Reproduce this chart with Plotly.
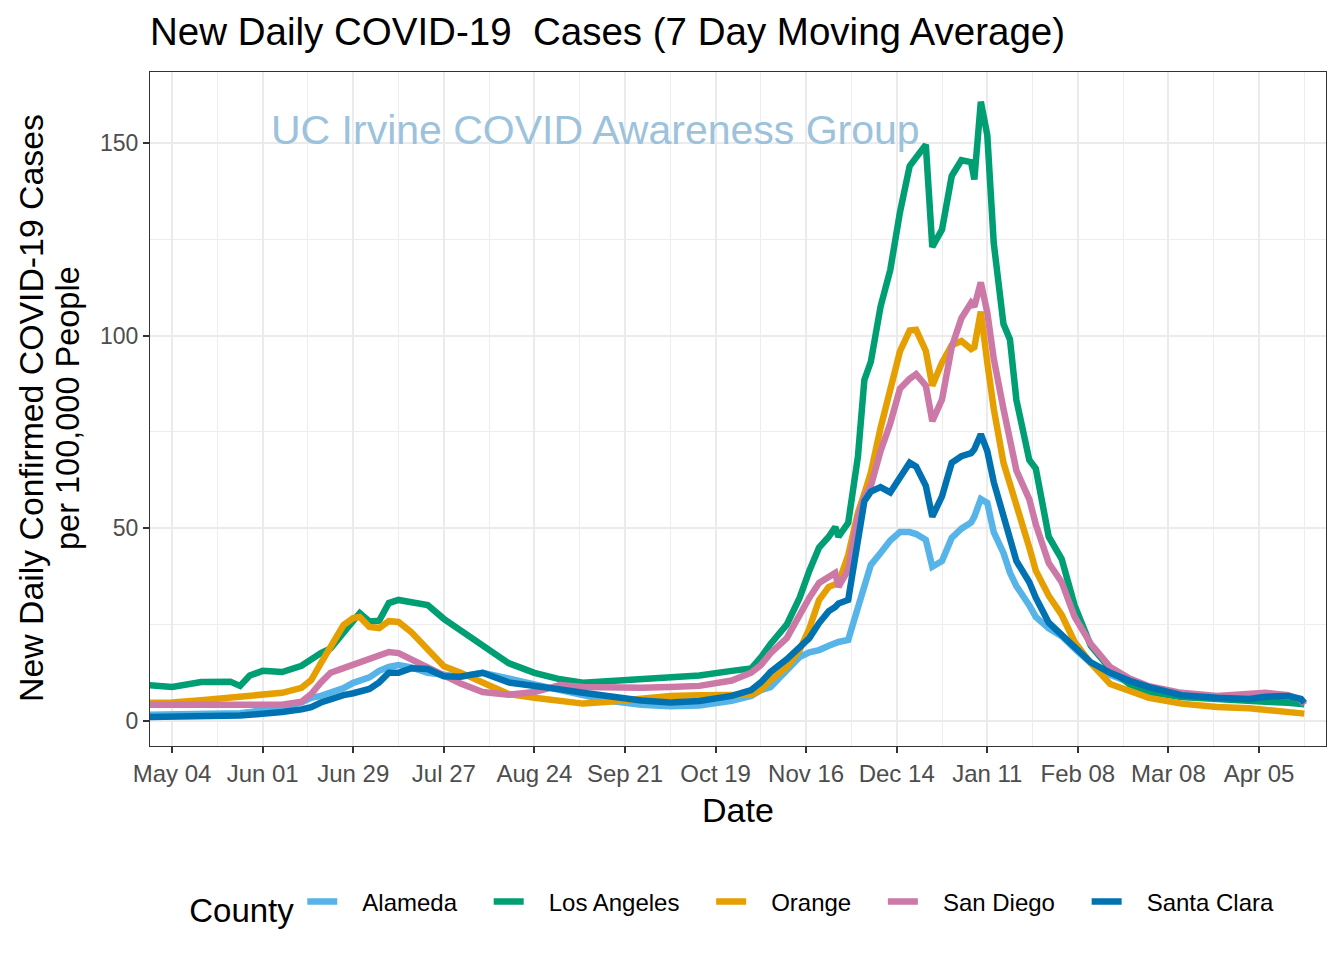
import plotly.graph_objects as go

dates = ["2020-04-27","2020-05-04","2020-05-13","2020-05-22","2020-05-25","2020-05-28","2020-06-01","2020-06-07",
         "2020-06-13","2020-06-16","2020-06-19","2020-06-22","2020-06-26","2020-06-29","2020-07-01","2020-07-04",
         "2020-07-07","2020-07-10","2020-07-13","2020-07-17","2020-07-22","2020-07-27","2020-08-01","2020-08-08",
         "2020-08-16","2020-08-24","2020-09-01","2020-09-08","2020-09-16","2020-09-26","2020-10-05","2020-10-14",
         "2020-10-24","2020-10-30","2020-11-02","2020-11-05","2020-11-10","2020-11-14","2020-11-17","2020-11-20",
         "2020-11-23","2020-11-25","2020-11-26","2020-11-29","2020-12-02","2020-12-04","2020-12-06","2020-12-09",
         "2020-12-12","2020-12-15","2020-12-18","2020-12-20","2020-12-23","2020-12-25","2020-12-28","2020-12-31",
         "2021-01-03","2021-01-06","2021-01-07","2021-01-09","2021-01-11","2021-01-13","2021-01-16","2021-01-18",
         "2021-01-20","2021-01-24","2021-01-26","2021-01-30","2021-02-03","2021-02-07","2021-02-12","2021-02-18",
         "2021-02-24","2021-03-02","2021-03-12","2021-03-23","2021-04-02","2021-04-07","2021-04-14","2021-04-18",
         "2021-04-19"]

alameda = [1.6,1.6,1.6,1.8,2.0,2.3,2.7,3.6,4.8,6.0,6.5,7.2,8.5,9.9,10.5,11.3,13.0,14.0,14.5,13.9,12.5,11.8,11.5,12.5,
           10.8,9.5,8.0,6.8,5.2,4.2,3.8,4.0,5.2,6.5,8.0,8.8,13.0,16.6,17.8,18.4,19.5,20.2,20.5,21.0,29.6,36.0,40.5,
           43.6,46.8,49.0,49.0,48.5,47.0,40.0,41.5,47.5,49.9,51.5,53.0,57.6,56.6,49.0,43.6,38.5,35.0,30.0,27.0,24.0,
           22.0,18.8,15.0,12.0,10.0,8.5,6.5,5.8,5.5,6.0,6.2,5.5,4.5]

los_angeles = [9.3,8.8,10.1,10.2,9.1,11.8,13.0,12.7,14.3,16.0,17.6,18.8,22.8,26.3,28.0,25.8,26.0,30.6,31.4,30.8,30.1,
               26.5,23.5,19.5,15.0,12.5,10.8,9.9,10.4,10.8,11.2,11.8,13.0,13.6,16.5,20.0,25.0,32.0,39.0,45.0,47.8,50.3,
               47.8,51.4,68.5,88.5,93.2,107.5,117.0,132.0,144.0,146.0,149.5,123.0,127.5,141.4,145.5,145.0,140.5,160.7,
               152.0,124.0,103.0,99.0,83.3,67.7,65.5,47.8,42.0,30.0,19.5,13.5,9.5,7.5,6.2,5.7,5.5,5.0,4.7,4.5,4.3]

orange = [4.7,4.8,5.4,6.0,6.2,6.4,6.6,7.3,8.6,10.6,15.0,19.2,24.9,26.7,27.0,24.4,24.1,25.9,25.7,23.0,18.8,14.2,12.6,
          9.9,7.0,6.0,5.0,4.5,5.0,5.9,6.5,6.7,6.8,6.8,8.0,10.6,14.0,18.4,24.0,31.4,34.8,35.5,35.8,43.0,54.0,59.0,64.4,
          76.0,85.2,95.9,101.3,101.5,96.0,87.0,93.0,97.5,98.6,96.5,97.0,106.2,93.0,81.0,67.0,62.0,56.0,45.0,39.0,32.5,
          27.5,20.5,15.0,9.6,7.6,6.0,4.5,3.6,3.3,2.9,2.6,2.3,1.9]

san_diego = [4.2,4.2,4.2,4.0,3.9,3.8,3.9,4.2,5.0,7.0,10.0,12.5,13.7,14.6,15.2,16.4,17.3,17.9,17.6,16.0,14.0,12.0,9.8,
             7.5,6.8,7.5,9.3,8.8,8.6,8.6,8.8,9.1,10.5,12.5,14.5,17.6,21.5,28.0,32.0,35.8,37.5,38.4,34.8,39.2,53.0,58.0,
             61.0,70.0,77.2,86.2,88.8,90.0,87.0,77.8,83.4,97.0,104.5,108.5,107.5,113.8,106.0,94.0,81.0,72.0,65.0,57.5,
             51.0,41.0,36.0,27.0,20.0,14.0,11.0,9.0,7.3,6.5,7.0,7.3,6.7,5.5,4.2]

santa_clara = [1.0,1.0,1.0,1.3,1.4,1.6,1.8,2.3,3.0,3.6,4.8,5.8,6.7,7.2,7.5,8.3,10.0,12.5,12.5,13.7,13.5,11.6,11.5,12.5,
               10.0,8.9,8.2,7.3,6.3,5.3,4.8,5.2,6.5,8.0,10.0,12.7,16.0,19.2,21.5,25.4,28.5,29.6,30.5,31.4,47.0,57.0,59.5,
               60.7,59.3,63.5,67.0,66.0,61.0,53.0,58.3,67.0,68.7,69.5,70.5,74.4,70.0,62.0,53.0,47.0,41.5,36.0,32.0,25.5,
               22.5,19.0,15.2,12.5,10.4,8.8,6.7,6.0,5.7,6.3,6.5,5.7,4.7]

counties = ["Alameda", "Los Angeles", "Orange", "San Diego", "Santa Clara"]
series = [alameda, los_angeles, orange, san_diego, santa_clara]
colors = ["#56B4E9", "#009E73", "#E69F00", "#CC79A7", "#0072B2"]

FONT = "Liberation Sans, Arial, Helvetica, sans-serif"
NB = "\u00a0"

fig = go.Figure()
for name, vals, col in zip(counties, series, colors):
    fig.add_trace(go.Scatter(x=dates, y=vals, mode="lines", name=NB * 3 + name + NB * 4,
                             line=dict(color=col, width=6.5)))

DAY = 86400000
fig.update_layout(
    width=1344, height=960,
    paper_bgcolor="white", plot_bgcolor="white",
    margin=dict(l=150, r=18, t=72, b=214),
    font=dict(family=FONT, color="black"),
    title=dict(text="New Daily COVID-19  Cases (7 Day Moving Average)", x=150/1344, xanchor="left",
               y=1-32/960, yanchor="middle", font=dict(size=38.5, color="black")),
    showlegend=True,
    legend=dict(orientation="h", x=0.507, xanchor="center", y=-(906-746)/674, yanchor="middle",
                title=dict(text="County", font=dict(size=33), side="left"),
                font=dict(size=24), bgcolor="rgba(0,0,0,0)"),
)

fig.update_xaxes(
    type="date", range=["2020-04-27 04:00", "2021-04-25 17:00"],
    tick0="2020-05-04", dtick=28*DAY, tickformat="%b %d",
    ticks="outside", ticklen=6, tickwidth=1.5, tickcolor="#333333",
    tickfont=dict(size=24, color="#4D4D4D"),
    showgrid=True, gridcolor="#EBEBEB", gridwidth=1.8,
    minor=dict(tick0="2020-04-20", dtick=14*DAY, showgrid=True, gridcolor="#EDEDED", gridwidth=1),
    showline=True, linecolor="#333333", linewidth=1.2, mirror=True, zeroline=False,
)
fig.update_yaxes(
    range=[-6.5, 168.4], tick0=0, dtick=50,
    ticks="outside", ticklen=6, tickwidth=1.5, tickcolor="#333333",
    tickfont=dict(size=23, color="#4D4D4D"),
    showgrid=True, gridcolor="#EBEBEB", gridwidth=1.8,
    minor=dict(tick0=0, dtick=25, showgrid=True, gridcolor="#EDEDED", gridwidth=1),
    showline=True, linecolor="#333333", linewidth=1.2, mirror=True, zeroline=False,
)

fig.add_annotation(text="Date", xref="paper", yref="paper", x=(738-150)/1176, y=-(810-746)/674,
                   xanchor="center", yanchor="middle", showarrow=False, font=dict(size=34, color="black"))
fig.add_annotation(text="New Daily Confirmed COVID-19 Cases", xref="paper", yref="paper",
                   x=(31-150)/1176, y=(746-408)/674, xanchor="center", yanchor="middle",
                   textangle=-90, showarrow=False, font=dict(size=33.8, color="black"))
fig.add_annotation(text="per 100,000 People", xref="paper", yref="paper",
                   x=(68-150)/1176, y=(746-408)/674, xanchor="center", yanchor="middle",
                   textangle=-90, showarrow=False, font=dict(size=32.5, color="black"))
fig.add_annotation(text="UC Irvine COVID Awareness Group", xref="paper", yref="paper",
                   x=(595-150)/1176, y=(746-130)/674, xanchor="center", yanchor="middle",
                   showarrow=False, font=dict(size=41, color="#9CC2DC"))

fig.write_html("out.html", config={"displayModeBar": False},
               post_script="document.body.style.margin='0px';")
